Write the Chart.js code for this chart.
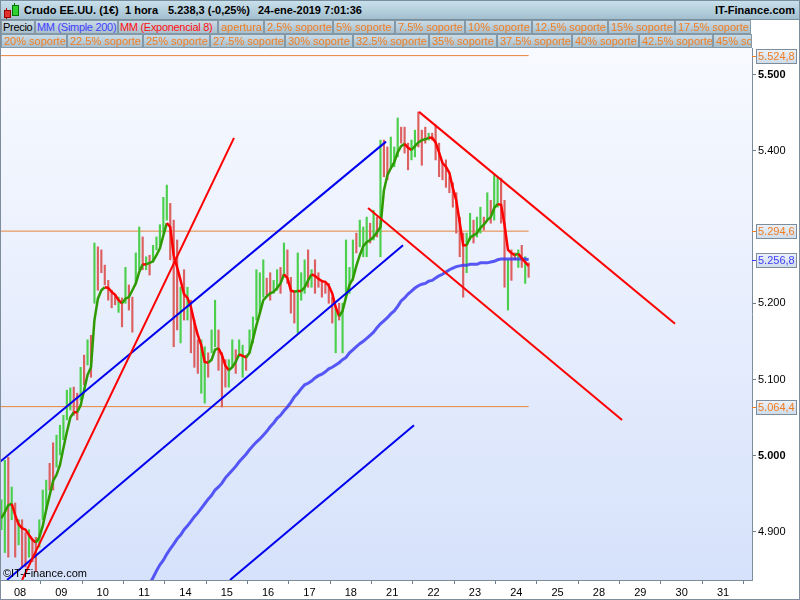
<!DOCTYPE html>
<html><head><meta charset="utf-8">
<script src="https://cdn.jsdelivr.net/npm/chart.js@4.4.1/dist/chart.umd.min.js"></script>
<style>
html,body{margin:0;padding:0;background:#fff;}
#wrap{position:relative;width:800px;height:600px;overflow:hidden;font-family:"Liberation Sans",Arial,sans-serif;}
#cv{position:absolute;left:0;top:0;}
#r1{position:absolute;left:0;top:0;width:800px;height:20px;background:linear-gradient(#c8e0eb,#a3bfce);border:1px solid #7a8f9d;box-sizing:border-box;}
.t{position:absolute;top:3px;font-weight:bold;font-size:11px;color:#000;white-space:nowrap;}
.cell{position:absolute;height:14px;box-sizing:border-box;border:1px solid #8499a7;background:linear-gradient(#cadbe5,#a9bfcc);font-size:11px;line-height:12px;padding-left:2px;white-space:nowrap;overflow:hidden;}
.tight{letter-spacing:-0.3px;padding-left:1px;}
#copy{position:absolute;left:3px;top:567px;font-size:11px;color:#000;}
.ic{position:absolute;}
</style></head>
<body>
<div id="wrap">
  <canvas id="cv" width="800" height="600"></canvas>
  <div id="hdr"></div>
  <div id="copy">©IT-Finance.com</div>
</div>
<script>
// ---------- DATA ----------
const xLabels = ['08','09','10','11','14','15','16','17','18','21','22','23','24','25','28','29','30','31'];
const barsPerDay = 12;
const firstBarDay = -0.45;
const high = [4.942,4.994,4.998,4.959,4.938,4.916,4.916,4.899,4.903,4.890,
4.893,4.916,4.955,4.968,4.990,5.017,5.027,5.040,5.053,5.086,
5.089,5.090,5.082,5.116,5.132,5.152,5.158,5.279,5.274,5.270,
5.250,5.230,5.217,5.211,5.208,5.207,5.247,5.224,5.208,5.266,
5.300,5.287,5.261,5.263,5.276,5.287,5.303,5.339,5.355,5.331,
5.309,5.283,5.221,5.244,5.221,5.204,5.178,5.152,5.152,5.143,
5.135,5.165,5.204,5.165,5.135,5.126,5.126,5.152,5.139,5.152,
5.145,5.132,5.165,5.182,5.244,5.240,5.257,5.233,5.240,5.230,
5.244,5.247,5.279,5.270,5.234,5.217,5.266,5.240,5.257,5.270,
5.244,5.257,5.240,5.230,5.226,5.226,5.208,5.195,5.200,5.200,
5.283,5.247,5.283,5.292,5.309,5.300,5.313,5.305,5.322,5.313,
5.414,5.414,5.405,5.418,5.405,5.443,5.431,5.431,5.410,5.414,
5.427,5.451,5.427,5.431,5.423,5.423,5.434,5.410,5.384,5.388,
5.366,5.358,5.345,5.313,5.292,5.292,5.318,5.309,5.313,5.326,
5.313,5.345,5.335,5.368,5.366,5.364,5.335,5.257,5.270,5.266,
5.270,5.276,5.261,5.253];
const low = [4.903,4.873,4.867,4.916,4.867,4.883,4.854,4.854,4.867,4.861,
4.848,4.880,4.916,4.929,4.955,4.955,4.985,5.001,5.021,5.047,
5.060,5.053,5.047,5.073,5.093,5.119,5.103,5.200,5.217,5.240,
5.224,5.204,5.194,5.198,5.188,5.169,5.200,5.191,5.162,5.226,
5.244,5.244,5.244,5.237,5.254,5.270,5.276,5.292,5.309,5.257,
5.143,5.165,5.148,5.178,5.178,5.135,5.116,5.108,5.082,5.069,
5.103,5.135,5.143,5.112,5.064,5.090,5.090,5.116,5.108,5.130,
5.103,5.112,5.135,5.148,5.178,5.187,5.208,5.211,5.204,5.213,
5.217,5.213,5.234,5.226,5.187,5.174,5.161,5.204,5.213,5.221,
5.221,5.213,5.221,5.208,5.213,5.200,5.174,5.135,5.178,5.135,
5.213,5.213,5.230,5.266,5.274,5.261,5.261,5.279,5.283,5.287,
5.261,5.366,5.362,5.379,5.379,5.392,5.410,5.397,5.375,5.388,
5.392,5.405,5.381,5.410,5.414,5.414,5.388,5.366,5.362,5.352,
5.345,5.326,5.292,5.261,5.208,5.240,5.283,5.279,5.287,5.292,
5.296,5.309,5.305,5.309,5.326,5.305,5.221,5.191,5.230,5.257,
5.247,5.247,5.226,5.234];
const dir = 'uudududdud'+'duuudduuuu'+'uddudududd'+'ddddududdu'+'ududuuuuud'+
            'ddududdduu'+'duuddduudu'+'uduuuuuddu'+'ududdduuud'+'uddddddudu'+
            'uuuduuudud'+'udduuudddu'+'uddduddddd'+'ddddduuduu'+'duduuddudd'+'udud';
const ema8 = [4.918,4.926,4.935,4.937,4.922,4.910,4.905,4.903,4.896,4.890,
4.886,4.893,4.908,4.929,4.948,4.967,4.975,4.988,5.010,5.031,
5.050,5.057,5.057,5.066,5.086,5.106,5.116,5.178,5.206,5.217,
5.221,5.220,5.215,5.211,5.204,5.200,5.206,5.208,5.217,5.226,
5.241,5.251,5.251,5.253,5.255,5.263,5.272,5.289,5.305,5.300,
5.263,5.247,5.230,5.212,5.207,5.195,5.175,5.158,5.145,5.123,
5.122,5.126,5.139,5.141,5.132,5.118,5.112,5.116,5.123,5.133,
5.131,5.129,5.135,5.153,5.171,5.187,5.204,5.209,5.213,5.215,
5.220,5.226,5.238,5.233,5.217,5.215,5.216,5.216,5.221,5.230,
5.238,5.236,5.232,5.229,5.228,5.223,5.213,5.195,5.183,5.190,
5.208,5.224,5.232,5.249,5.263,5.275,5.280,5.283,5.287,5.293,
5.300,5.348,5.368,5.377,5.385,5.398,5.406,5.409,5.404,5.401,
5.406,5.411,5.414,5.415,5.417,5.417,5.411,5.398,5.384,5.379,
5.371,5.351,5.335,5.306,5.276,5.276,5.286,5.289,5.292,5.299,
5.303,5.309,5.313,5.325,5.330,5.329,5.303,5.270,5.266,5.263,
5.265,5.259,5.254,5.249];
const smaStart = 43;
const sma200 = [4.832,4.840,4.849,4.857,4.863,4.871,4.878,
4.884,4.891,4.896,4.903,4.908,4.914,4.920,4.925,4.931,4.937,
4.943,4.948,4.955,4.959,4.964,4.971,4.976,4.981,4.986,4.992,
4.997,5.002,5.008,5.013,5.018,5.022,5.027,5.032,5.038,5.043,
5.049,5.053,5.059,5.064,5.070,5.077,5.082,5.088,5.093,5.095,
5.098,5.102,5.105,5.107,5.110,5.114,5.116,5.119,5.122,5.126,
5.129,5.135,5.139,5.143,5.147,5.150,5.154,5.158,5.162,5.168,
5.173,5.177,5.181,5.186,5.190,5.196,5.203,5.207,5.212,5.216,
5.220,5.223,5.225,5.226,5.229,5.230,5.233,5.236,5.238,5.241,
5.244,5.246,5.248,5.249,5.250,5.250,5.251,5.251,5.251,5.253,
5.253,5.253,5.254,5.255,5.257,5.258,5.258,5.258,5.258,5.258,
5.258,5.258,5.258,5.257];
// trend lines: [startDay, startPrice, endDay, endPrice]
const redLines = [[0.05,4.837,5.175,5.417],[9.649,5.451,15.84,5.173],[8.416,5.325,14.559,5.047]];
const blueLines = [[-0.484,4.992,8.851,5.412],[-0.314,4.837,9.262,5.276],[5.079,4.837,9.528,5.040]];
const supportLevels = [5.5248, 5.2946, 5.0644];
const markValues = [5.5248, 5.2946, 5.2568, 5.0644];
const markLabels = ['5.524,8','5.294,6','5.256,8','5.064,4'];
const yTicks = [4.9, 5.0, 5.1, 5.2, 5.4, 5.5];
const yTickLabels = ['4.900','5.000','5.100','5.200','5.400','5.500'];
const boldTicks = [5.0, 5.5];
const titleParts = ['Crudo EE.UU. (1€)','1 hora','5.238,3 (-0,25%)','24-ene-2019 7:01:36'];
const siteName = 'IT-Finance.com';
const legendRow1 = ['Precio','MM (Simple 200)','MM (Exponencial 8)','apertura','2.5% soporte','5% soporte','7.5% soporte','10% soporte','12.5% soporte','15% soporte','17.5% soporte'];
const legendRow2 = ['20% soporte','22.5% soporte','25% soporte','27.5% soporte','30% soporte','32.5% soporte','35% soporte','37.5% soporte','40% soporte','42.5% soporte','45% soporte'];

// ---------- LAYOUT / STYLE ----------
const ORANGE = '#f07d22';
const markColors = [ORANGE, ORANGE, '#3c3cff', ORANGE];
const titleX = [23,124,167,257];
const row1Left = [1,35,118,218,264,333,395,465,532,608,675];
const row1W = [34,83,100,46,69,62,70,67,76,67,76];
const row2Left = [1,67,143,210,285,353,429,497,572,639,713];
const row2W = [66,76,67,75,68,76,68,75,67,74,39];
const row1Col = ['#000','#4040ff','#ff1010'];

// header
const hdr = document.getElementById('hdr');
let h = '<div id="r1">';
h += '<div class="ic" style="left:5px;top:7px;width:1px;height:11px;background:#b00"></div>';
h += '<div class="ic" style="left:3px;top:9px;width:5px;height:6px;background:#e03030;border:1px solid #900"></div>';
h += '<div class="ic" style="left:13px;top:2px;width:1px;height:13px;background:#070"></div>';
h += '<div class="ic" style="left:11px;top:4px;width:5px;height:9px;background:#30d030;border:1px solid #070"></div>';
titleParts.forEach((t,i)=>{ h += '<span class="t" style="left:'+titleX[i]+'px">'+t+'</span>'; });
h += '<span class="t" style="right:4px">'+siteName+'</span></div>';
legendRow1.forEach((t,i)=>{ h += '<div class="cell'+(i<3?' tight':'')+'" style="top:20px;left:'+row1Left[i]+'px;width:'+row1W[i]+'px;color:'+(row1Col[i]||ORANGE)+'">'+t+'</div>'; });
legendRow2.forEach((t,i)=>{ h += '<div class="cell" style="top:34px;left:'+row2Left[i]+'px;width:'+row2W[i]+'px;color:'+ORANGE+'">'+t+'</div>'; });
hdr.innerHTML = h;

// ---------- CHART ----------
Chart.defaults.font.family = '"Liberation Sans", Arial, sans-serif';
Chart.defaults.font.size = 11;
const bx = i => firstBarDay + i / barsPerDay;
const lastX = bx(high.length - 1);
const X_MIN = -0.4595, X_MAX = 17.701;

const datasets = [];
redLines.forEach(l => datasets.push({type:'line', data:[{x:l[0],y:l[1]},{x:l[2],y:l[3]}], borderColor:'#ff0000', borderWidth:2, pointRadius:0, order:1}));
blueLines.forEach(l => datasets.push({type:'line', data:[{x:l[0],y:l[1]},{x:l[2],y:l[3]}], borderColor:'#0000f0', borderWidth:2, pointRadius:0, order:1}));
datasets.push({type:'line', data: ema8.map((v,i)=>({x:bx(i), y:v})), borderWidth:2.5, pointRadius:0, order:2,
  borderColor:'#ff0000',
  segment:{ borderColor: c => c.p1.parsed.y > c.p0.parsed.y ? '#2f9a00' : '#ff0000' }});
datasets.push({type:'line', data: sma200.map((v,i)=>({x:bx(smaStart+i), y:v})), borderColor:'rgba(60,60,245,0.85)', borderWidth:3, pointRadius:0, order:3});
datasets.push({type:'bar', data: high.map((v,i)=>({x:bx(i), y:[low[i], v]})),
  backgroundColor: dir.split('').map(c => c === 'u' ? '#4ccf4c' : '#dc6060'),
  barThickness:1.5, borderWidth:0, order:4});
supportLevels.forEach(v => datasets.push({type:'line', data:[{x:X_MIN,y:v},{x:lastX,y:v}], borderColor:'#e8843a', borderWidth:1, pointRadius:0, order:5}));

const bgPlugin = {
  id:'bg',
  beforeDraw(chart){
    const {ctx, chartArea:a} = chart;
    ctx.save();
    ctx.fillStyle = '#fff'; ctx.fillRect(0,0,chart.width,chart.height);
    const g = ctx.createLinearGradient(0,a.top,0,a.bottom);
    g.addColorStop(0,'#f8faff'); g.addColorStop(1,'#d6e2fb');
    ctx.fillStyle = g; ctx.fillRect(a.left,a.top,a.right-a.left,a.bottom-a.top);
    ctx.restore();
  },
  afterDraw(chart){
    const {ctx, chartArea:a} = chart;
    const ys = chart.scales.y;
    ctx.save();
    ctx.strokeStyle = '#7d8d9b'; ctx.lineWidth = 1;
    ctx.beginPath(); ctx.moveTo(0.5,a.top); ctx.lineTo(0.5,a.bottom); ctx.stroke();
    ctx.strokeRect(0.5,0.5,chart.width-1,chart.height-1);
    ctx.font = '11px "Liberation Sans", Arial, sans-serif';
    ctx.textBaseline = 'middle'; ctx.textAlign = 'left';
    markValues.forEach((v,i)=>{
      const y = Math.round(ys.getPixelForValue(v));
      ctx.strokeStyle = markColors[i];
      ctx.beginPath(); ctx.moveTo(a.right, y+0.5); ctx.lineTo(a.right+5, y+0.5); ctx.stroke();
      const top = y - 7;
      const g = ctx.createLinearGradient(0,top,0,top+14);
      g.addColorStop(0,'#eef3fa'); g.addColorStop(1,'#cfdcea');
      ctx.fillStyle = g; ctx.fillRect(a.right+4.5, top+0.5, 40, 14);
      ctx.strokeStyle = '#7d8d9b'; ctx.strokeRect(a.right+4.5, top+0.5, 40, 14);
      ctx.fillStyle = markColors[i];
      ctx.fillText(markLabels[i], a.right+6, y+1);
    });
    ctx.restore();
  }
};

new Chart(document.getElementById('cv'), {
  type:'line',
  data:{datasets},
  options:{
    responsive:false, devicePixelRatio:1, animation:false, events:[],
    layout:{padding:{top:48,left:1,right:0,bottom:0}},
    plugins:{legend:{display:false}, tooltip:{enabled:false}, title:{display:false}},
    scales:{
      x:{type:'linear', position:'bottom', min:X_MIN, max:X_MAX, offset:false,
        afterBuildTicks: s => { s.ticks = xLabels.map((_,i)=>({value:i})); },
        afterFit: s => { s.height = 20; },
        ticks:{autoSkip:false, maxRotation:0, padding:2, color:'#000', callback:(v,i)=>xLabels[i]},
        grid:{drawOnChartArea:false, drawTicks:true, tickLength:4, color:'#6d7d8b'},
        border:{color:'#7d8d9b'}},
      y:{type:'linear', position:'right', min:4.837, max:5.5348,
        afterBuildTicks: s => { s.ticks = yTicks.map(v=>({value:v})); },
        afterFit: s => { s.width = 48; },
        ticks:{autoSkip:false, padding:2, color:'#000',
          font: c => ({size:11, weight: (c.tick && boldTicks.includes(c.tick.value)) ? 'bold' : 'normal'}),
          callback:(v,i)=>yTickLabels[i]},
        grid:{drawOnChartArea:false, drawTicks:true, tickLength:4, color:'#6d7d8b'},
        border:{color:'#7d8d9b'}}
    }
  },
  plugins:[bgPlugin]
});
</script>
</body></html>
